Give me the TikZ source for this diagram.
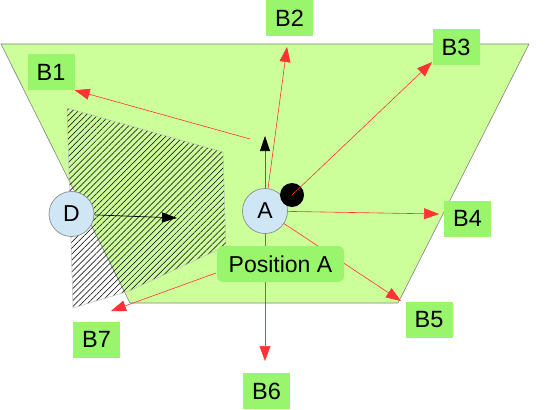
\documentclass[tikz,border=0pt]{standalone}
\usepackage{fontspec}
\setmainfont{Liberation Sans}
\usetikzlibrary{arrows.meta,patterns.meta}
\definecolor{trapfill}{HTML}{CCFF99}
\definecolor{boxfill}{HTML}{99F56B}
\definecolor{circfill}{HTML}{CFE7F5}
\definecolor{redline}{HTML}{FF3333}
\definecolor{olive}{HTML}{5A7045}
\tikzset{
  bbox/.style={fill=boxfill, minimum width=47pt, minimum height=36pt, inner sep=0pt, font=\fontsize{23.5}{25}\selectfont},
  circnode/.style={circle, fill=circfill, draw=black!45, line width=0.7pt, minimum size=45pt, inner sep=0pt, font=\fontsize{23}{25}\selectfont},
  blackdot/.style={circle, fill=black, minimum size=24pt, inner sep=0pt},
  redarrow/.style={draw=redline, line width=0.6pt, -{Triangle[length=15pt,width=11pt]}, redline},
  blackarrow/.style={line width=0.7pt, -{Triangle[length=15pt,width=10pt,black]}},
  poslabel/.style={fill=boxfill, rounded corners=6pt, minimum width=127pt, minimum height=36pt, inner sep=0pt, font=\fontsize{23}{25}\selectfont}
}
\begin{document}
\begin{tikzpicture}[x=1pt,y=-1pt]
\useasboundingbox (0,0) rectangle (545,409);
% trapezoid
\draw[fill=trapfill, draw=black!50, line width=0.6pt] (1,44) -- (529,44) -- (398,303) -- (130,303) -- cycle;
% hatched region
\draw[draw=black!25, line width=0.5pt, pattern={Lines[angle=45,distance=4.2pt,line width=0.7pt]}, pattern color=black!85]
  (67,108) -- (223,152) -- (226,246) -- (129,291) -- (73,308) -- cycle;
% coordinates
\coordinate (s1) at (250,139);
\coordinate (t2) at (287,47);
\coordinate (t3) at (432,62);
\coordinate (t4) at (439,214);
\coordinate (t5) at (401,301);
\coordinate (t6) at (265,361);
\coordinate (s7) at (216,273);
\coordinate (t7) at (111,311);
\coordinate (tA) at (265,136);
\coordinate (tD) at (177,218);
% boxes
\node[bbox] (B1) at (51,72) {B1};
\node[bbox] (B2) at (289.5,18) {B2};
\node[bbox] (B3) at (456,47.5) {B3};
\node[bbox] (B4) at (467.5,218.5) {B4};
\node[bbox] (B5) at (429,320) {B5};
\node[bbox] (B6) at (266.5,391) {B6};
\node[bbox] (B7) at (96.5,339.5) {B7};
% position of A (invisible, for anchors)
\path (265,211) node[circnode, draw=none, fill=none] (A) {};
% red arrows
\draw[redarrow] (s1) -- (B1.south east);
\draw[redarrow] (A) -- (t2);
\draw[redarrow] (A) -- (t4);
\draw[redarrow] (A) -- (t5);
\draw[redarrow] (A) -- (t6);
\draw[redarrow] (s7) -- (t7);
% circles
\node[circnode] at (A) {A};
\node[circnode] (D) at (71.5,214) {D};
\node[blackdot] (dot) at (292,195) {};
\draw[redarrow] (dot.center) -- (t3);
% black arrows
\draw[blackarrow, draw=olive] (A.north) -- (tA);
\draw[blackarrow] (D) -- (tD);
% label
\node[poslabel] (P) at (280.5,264) {Position A};
\end{tikzpicture}
\end{document}
